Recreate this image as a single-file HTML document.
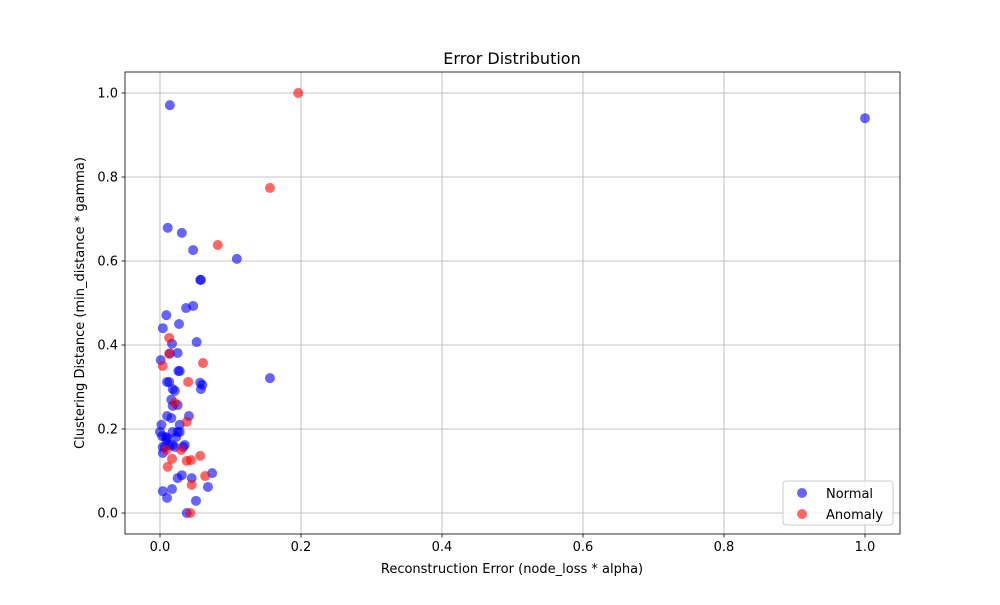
<!DOCTYPE html>
<html><head><meta charset="utf-8"><style>
body{margin:0;background:#fff;font-family:"Liberation Sans","DejaVu Sans",sans-serif}
svg text{font-family:"DejaVu Sans","Liberation Sans",sans-serif}
</style></head><body>
<svg id="chart" width="1000" height="600" xmlns="http://www.w3.org/2000/svg">
<rect width="1000" height="600" fill="#fff"/>
<g id="grid"></g><g id="pts"></g><g id="axes"></g>
</svg>
<script>
const normalX=[.014,1.0,.011,.031,.047,.109,.057,.058,.037,.047,.009,.027,.004,.052,.017,.025,.014,.156,.001,.028,.026,.057,.01,.013,.06,.018,.021,.058,.016,.025,.018,.041,.01,.016,.028,.002,.008,.023,.014,.028,.018,.007,.004,.021,.033,.009,.003,.0,.01,.018,.025,.035,.004,.074,.045,.025,.031,.068,.017,.004,.01,.051,.038];
const normalY=[.971,.94,.679,.667,.626,.605,.555,.555,.488,.493,.471,.45,.44,.407,.403,.381,.38,.321,.364,.338,.338,.31,.312,.312,.305,.295,.291,.295,.27,.257,.255,.231,.231,.226,.21,.21,.181,.181,.162,.193,.162,.157,.157,.157,.157,.174,.183,.193,.179,.193,.193,.162,.143,.095,.083,.083,.09,.062,.057,.052,.036,.029,.0];
const anomX=[.196,.156,.082,.013,.013,.004,.061,.04,.021,.038,.009,.03,.017,.038,.044,.057,.011,.064,.045,.043];
const anomY=[1.0,.774,.638,.417,.379,.35,.357,.312,.262,.217,.15,.15,.129,.124,.126,.136,.11,.088,.067,.0];
const xTicks=[0,0.2,0.4,0.6,0.8,1.0];
const yTicks=[0,0.2,0.4,0.6,0.8,1.0];
const L=125,R=900,T=72,B=534;
const sx=v=>160+v*705, sy=v=>513-v*420;
const NS='http://www.w3.org/2000/svg';
function mk(tag,at,parent,txt){const e=document.createElementNS(NS,tag);for(const k in at)e.setAttribute(k,at[k]);if(txt!==undefined)e.textContent=txt;parent.appendChild(e);return e;}
const grid=document.getElementById('grid'),pts=document.getElementById('pts'),axes=document.getElementById('axes');
xTicks.forEach(t=>{const x=sx(t);
 const g=mk('line',{x1:x,x2:x,y1:T,y2:B,stroke:'#b0b0b0','stroke-width':0.8},grid);
 
 mk('line',{x1:x,x2:x,y1:B,y2:B+3.5,stroke:'#000','stroke-width':0.8},axes);
 const l=mk('text',{x:x,y:B+17,'text-anchor':'middle','font-size':13},axes,t.toFixed(1));
 });
yTicks.forEach(t=>{const y=sy(t);
 const g=mk('line',{x1:L,x2:R,y1:y,y2:y,stroke:'#b0b0b0','stroke-width':0.8},grid);
 
 mk('line',{x1:L-3.5,x2:L,y1:y,y2:y,stroke:'#000','stroke-width':0.8},axes);
 const l=mk('text',{x:L-7,y:y+4.5,'text-anchor':'end','font-size':13},axes,t.toFixed(1));
 });
normalX.forEach((v,i)=>{const c=mk('circle',{cx:sx(v),cy:sy(normalY[i]),r:5,fill:'#0000ff','fill-opacity':0.6},pts);
 });
anomX.forEach((v,i)=>{const c=mk('circle',{cx:sx(v),cy:sy(anomY[i]),r:5,fill:'#ff0000','fill-opacity':0.6},pts);
 });
const fr=mk('rect',{x:L,y:T,width:R-L,height:B-T,fill:'none',stroke:'#000','stroke-width':0.8},axes);

</script>
<svg style="position:absolute;left:0;top:0" width="1000" height="600">
<text x="512" y="64" text-anchor="middle" font-size="16">Error Distribution</text>
<text x="512" y="573" text-anchor="middle" font-size="13">Reconstruction Error (node_loss * alpha)</text>
<text x="84" y="303" text-anchor="middle" font-size="13" transform="rotate(-90 84 303)">Clustering Distance (min_distance * gamma)</text>
<g>
<rect x="783" y="481" width="110" height="44" rx="3" fill="#fff" fill-opacity="0.8" stroke="#ccc"/>
<circle cx="802" cy="493" r="5" fill="#0000ff" fill-opacity="0.6"/>
<text x="826" y="498" font-size="13">Normal</text>
<circle cx="802" cy="514" r="5" fill="#ff0000" fill-opacity="0.6"/>
<text x="826" y="519" font-size="13">Anomaly</text>
</g>
</svg>
</body></html>
